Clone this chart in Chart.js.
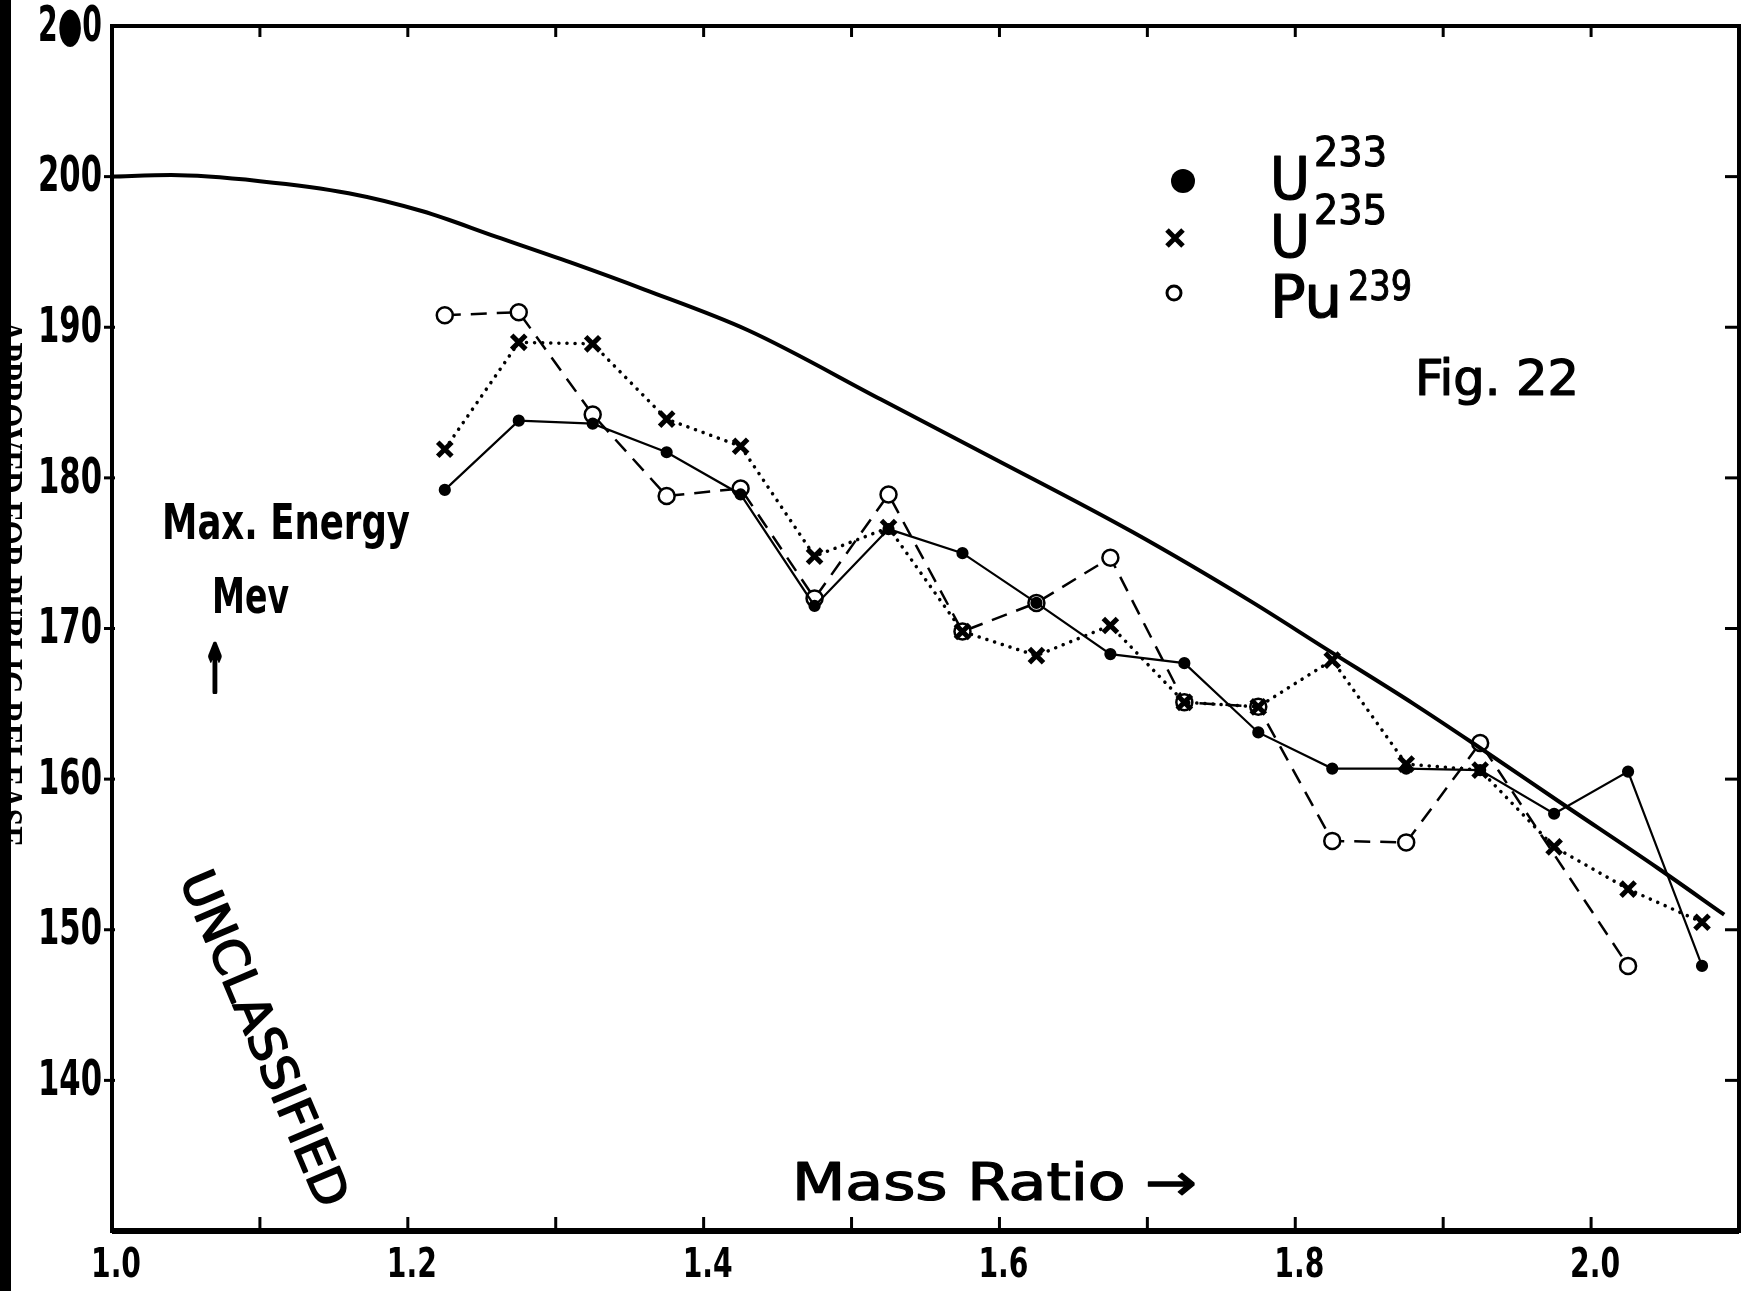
<!DOCTYPE html>
<html>
<head>
<meta charset="utf-8">
<script src="https://cdn.jsdelivr.net/npm/chart.js@4.4.1/dist/chart.umd.min.js"></script>
<style>
  html, body { margin: 0; padding: 0; background: #fff; }
  #wrap { width: 1754px; height: 1291px; position: relative; }
</style>
</head>
<body>
<div id="wrap"><canvas id="graph"></canvas></div>
<script>
// Fig. 22 - max fission energy vs mass ratio

// data points (mass ratio on x)
const massRatio = [1.225, 1.275, 1.325, 1.375, 1.425, 1.475, 1.525, 1.575, 1.625,
                   1.675, 1.725, 1.775, 1.825, 1.875, 1.925, 1.975, 2.025, 2.075];
const u233  = [179.2, 183.8, 183.6, 181.7, 178.9, 171.5, 176.6, 175.0, 171.7,
               168.3, 167.7, 163.1, 160.7, 160.7, 160.6, 157.7, 160.5, 147.6];
const u235  = [181.9, 189.0, 188.9, 183.9, 182.1, 174.8, 176.7, 169.8, 168.2,
               170.2, 165.1, 164.8, 167.9, 161.0, 160.6, 155.5, 152.7, 150.5];
const pu239 = [190.8, 191.0, 184.2, 178.8, 179.3, 172.0, 178.9, 169.8, 171.7,
               174.7, 165.1, 164.8, 155.9, 155.8, 162.4, null, 147.6, null];

// the smooth theoretical curve
const curveX = [1.00, 1.04, 1.10, 1.16, 1.21, 1.26, 1.31, 1.36, 1.43, 1.52,
                1.59, 1.69, 1.77, 1.82, 1.88, 1.92, 1.98, 2.045, 2.09];
const curveY = [200.0, 200.1, 199.7, 198.9, 197.7, 196.0, 194.3, 192.5, 189.8, 185.2,
                181.6, 176.4, 171.8, 168.7, 165.0, 162.4, 158.4, 154.1, 151.0];

// axis ticks
const xTickMarks  = [1.1, 1.2, 1.3, 1.4, 1.5, 1.6, 1.7, 1.8, 1.9, 2.0];
const xTickLabels = ['1.0', '1.2', '1.4', '1.6', '1.8', '2.0'];
const yTickMarks  = [140, 150, 160, 170, 180, 190, 200];
const yTickLabels = ['140', '150', '160', '170', '180', '190', '200', '2●0'];
const yLabelValues = [140, 150, 160, 170, 180, 190, 200, 210];

const FONT = '"DejaVu Sans Condensed", "DejaVu Sans", sans-serif';

function toPoints(xs, ys) {
  return xs.map((x, i) => ({x: x, y: ys[i]}));
}

// draws text squeezed/stretched to a given width (optionally thickened with a stroke)
function fitText(ctx, txt, x, y, w, size, align, weight, thicken) {
  ctx.save();
  ctx.font = (weight || 'bold') + ' ' + size + 'px ' + FONT;
  const m = ctx.measureText(txt).width;
  const sx = w / m;
  let x0 = x;
  if (align === 'center') x0 = x - w / 2;
  else if (align === 'right') x0 = x - w;
  ctx.translate(x0, y);
  ctx.scale(sx, 1);
  ctx.textAlign = 'left';
  ctx.fillText(txt, 0, 0);
  if (thicken) {
    ctx.lineWidth = thicken;
    ctx.lineJoin = 'round';
    ctx.strokeText(txt, 0, 0);
  }
  ctx.restore();
}

const decorPlugin = {
  id: 'decor',
  afterDraw(chart) {
    const ctx = chart.ctx;
    const xs = chart.scales.x, ys = chart.scales.y;
    const a = chart.chartArea;
    ctx.save();
    ctx.strokeStyle = '#000';
    ctx.fillStyle = '#000';
    ctx.lineCap = 'butt';

    // frame
    ctx.lineWidth = 4;
    ctx.strokeRect(a.left, a.top, a.right - a.left, a.bottom - a.top);
    ctx.lineWidth = 6;
    ctx.beginPath(); ctx.moveTo(a.left, a.bottom); ctx.lineTo(a.right, a.bottom); ctx.stroke();

    // inward ticks
    ctx.lineWidth = 3;
    xTickMarks.forEach(v => {
      const px = xs.getPixelForValue(v);
      ctx.beginPath(); ctx.moveTo(px, a.bottom); ctx.lineTo(px, a.bottom - 14); ctx.stroke();
      ctx.beginPath(); ctx.moveTo(px, a.top); ctx.lineTo(px, a.top + 11); ctx.stroke();
    });
    yTickMarks.forEach(v => {
      const py = ys.getPixelForValue(v);
      ctx.beginPath(); ctx.moveTo(a.left - 8, py); ctx.lineTo(a.left + 3, py); ctx.stroke();
      ctx.beginPath(); ctx.moveTo(a.right, py); ctx.lineTo(a.right - 14, py); ctx.stroke();
    });

    // tick labels
    ctx.textBaseline = 'middle';
    xTickLabels.forEach(t => {
      const px = xs.getPixelForValue(parseFloat(t));
      fitText(ctx, t, px + 4, a.bottom + 35, 50, 41, 'center');
    });
    yTickLabels.forEach((t, i) => {
      const py = ys.getPixelForValue(yLabelValues[i]);
      fitText(ctx, t, a.left - 10, py + 2, 64, 49, 'right');
    });

    // axis captions
    ctx.textBaseline = 'alphabetic';
    fitText(ctx, 'Max. Energy', 162, 539, 248, 50, 'left');
    fitText(ctx, 'Mev', 212, 613, 77, 50, 'left');
    fitText(ctx, '↑', 204, 692, 22, 66, 'left', 'bold', 4);
    fitText(ctx, 'Mass Ratio →', 792, 1200, 405, 51, 'left', 'normal', 1.2);

    // legend
    ctx.beginPath(); ctx.arc(1183, 181, 12, 0, Math.PI * 2); ctx.fill();
    ctx.lineWidth = 5;
    ctx.beginPath();
    ctx.moveTo(1167, 230); ctx.lineTo(1183, 246);
    ctx.moveTo(1183, 230); ctx.lineTo(1167, 246);
    ctx.stroke();
    ctx.lineWidth = 3;
    ctx.beginPath(); ctx.arc(1174, 293, 7, 0, Math.PI * 2); ctx.stroke();
    fitText(ctx, 'U', 1270, 199, 40, 58, 'left', 'normal', 1.2);
    fitText(ctx, '233', 1314, 166, 73, 40, 'left', 'normal', 1);
    fitText(ctx, 'U', 1270, 257, 40, 58, 'left', 'normal', 1.2);
    fitText(ctx, '235', 1314, 224, 73, 40, 'left', 'normal', 1);
    fitText(ctx, 'Pu', 1270, 317, 72, 58, 'left', 'normal', 1.2);
    fitText(ctx, '239', 1348, 300, 64, 40, 'left', 'normal', 1);
    fitText(ctx, 'Fig. 22', 1415, 395, 164, 50, 'left', 'normal', 1.2);

    // stamp
    ctx.save();
    ctx.translate(261, 1040);
    ctx.rotate(67 * Math.PI / 180);
    ctx.textBaseline = 'middle';
    fitText(ctx, 'UNCLASSIFIED', 0, 0, 360, 48, 'center', 'normal', 1.6);
    ctx.restore();

    // scan edge: release stamp half hidden by the black margin
    ctx.save();
    ctx.translate(-4, 320);
    ctx.rotate(Math.PI / 2);
    ctx.font = 'bold 40px "Liberation Serif", serif';
    const sw = ctx.measureText('APPROVED FOR PUBLIC RELEASE').width;
    ctx.scale(527 / sw, 1);
    ctx.textBaseline = 'alphabetic';
    ctx.fillText('APPROVED FOR PUBLIC RELEASE', 0, 0);
    ctx.restore();
    ctx.fillRect(0, 0, 11, chart.height);

    ctx.restore();
  }
};

document.addEventListener('DOMContentLoaded', function () {
  const graph = document.getElementById('graph');
  new Chart(graph, {
    type: 'line',
    data: {
      datasets: [
        {
          label: 'curve',
          data: toPoints(curveX, curveY),
          borderColor: '#000',
          borderWidth: 4,
          pointRadius: 0,
          cubicInterpolationMode: 'monotone'
        },
        {
          label: 'U233',
          data: toPoints(massRatio, u233),
          borderColor: '#000',
          borderWidth: 2.2,
          pointStyle: 'circle',
          pointRadius: 5,
          pointBackgroundColor: '#000',
          pointBorderColor: '#000',
          tension: 0
        },
        {
          label: 'U235',
          data: toPoints(massRatio, u235),
          borderColor: '#000',
          borderWidth: 3.5,
          borderDash: [0.1, 8],
          borderCapStyle: 'round',
          pointStyle: 'crossRot',
          pointRadius: 10,
          pointBorderWidth: 5,
          pointBorderColor: '#000',
          tension: 0
        },
        {
          label: 'Pu239',
          data: toPoints(massRatio, pu239),
          borderColor: '#000',
          borderWidth: 2.5,
          borderDash: [16, 10],
          pointStyle: 'circle',
          pointRadius: 8,
          pointBorderWidth: 2.5,
          pointBackgroundColor: '#fff',
          pointBorderColor: '#000',
          spanGaps: true,
          tension: 0
        }
      ]
    },
    options: {
      responsive: true,
      maintainAspectRatio: false,
      animation: false,
      devicePixelRatio: 1,
      layout: { padding: { top: 26, right: 9, left: 0, bottom: 0 } },
      plugins: {
        legend: { display: false },
        tooltip: { enabled: false }
      },
      scales: {
        x: {
          type: 'linear',
          min: 1.0,
          max: 2.1,
          grid: { display: false },
          border: { display: false },
          ticks: { display: false },
          afterFit: s => { s.height = 60; }
        },
        y: {
          min: 130,
          max: 210,
          grid: { display: false },
          border: { display: false },
          ticks: { display: false },
          afterFit: s => { s.width = 112; }
        }
      }
    },
    plugins: [decorPlugin]
  });
});
</script>
</body>
</html>
